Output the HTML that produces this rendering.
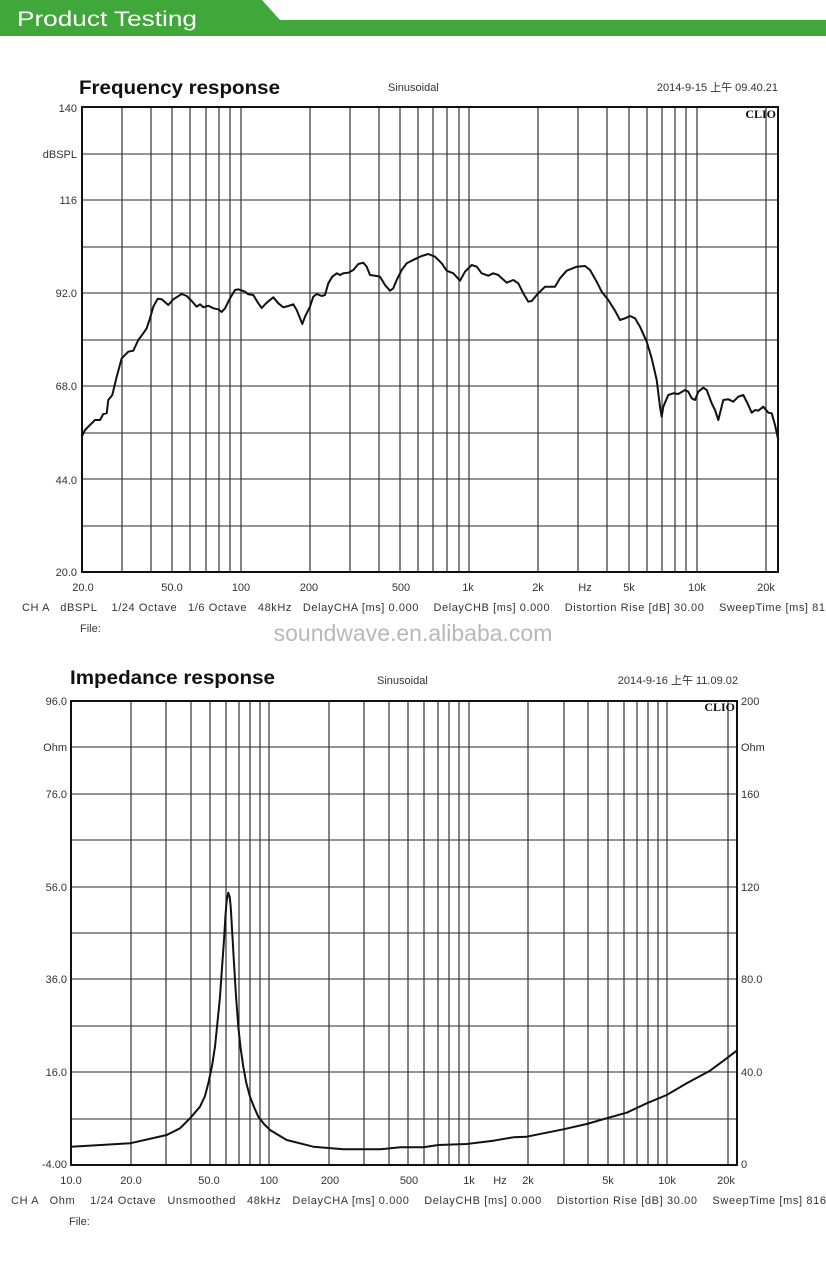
<!DOCTYPE html>
<html><head><meta charset="utf-8"><style>
html,body{margin:0;padding:0;background:#fff;}
svg{display:block;}
text{font-family:"Liberation Sans","Noto Sans CJK SC",sans-serif;fill:#333;}
</style></head><body>
<svg width="826" height="1264" viewBox="0 0 826 1264" xmlns="http://www.w3.org/2000/svg">
<rect x="0" y="0" width="826" height="1264" fill="#fff"/>
<!-- header -->
<polygon points="0,0 262,0 280,20 826,20 826,36 0,36" fill="#40a83b"/>
<text x="17" y="26" font-size="21" textLength="180" lengthAdjust="spacingAndGlyphs" style="fill:#fff">Product Testing</text>

<!-- chart 1 -->
<text x="79" y="94" font-size="19" font-weight="bold" textLength="201" lengthAdjust="spacingAndGlyphs" style="fill:#111">Frequency response</text>
<text x="388" y="91" font-size="11">Sinusoidal</text>
<text x="778" y="91" font-size="11" text-anchor="end">2014-9-15 上午 09.40.21</text>
<g stroke="#555" stroke-width="1.2">
<line x1="82" y1="154" x2="778" y2="154"/><line x1="82" y1="200" x2="778" y2="200"/>
<line x1="82" y1="247" x2="778" y2="247"/><line x1="82" y1="293" x2="778" y2="293"/>
<line x1="82" y1="340" x2="778" y2="340"/><line x1="82" y1="386" x2="778" y2="386"/>
<line x1="82" y1="433" x2="778" y2="433"/><line x1="82" y1="479" x2="778" y2="479"/>
<line x1="82" y1="526" x2="778" y2="526"/>
</g>
<g stroke="#333" stroke-width="1.2">
<line x1="122" y1="107" x2="122" y2="572"/><line x1="151" y1="107" x2="151" y2="572"/>
<line x1="172" y1="107" x2="172" y2="572"/><line x1="190" y1="107" x2="190" y2="572"/>
<line x1="206" y1="107" x2="206" y2="572"/><line x1="219" y1="107" x2="219" y2="572"/>
<line x1="230" y1="107" x2="230" y2="572"/><line x1="241" y1="107" x2="241" y2="572"/>
<line x1="310" y1="107" x2="310" y2="572"/><line x1="350" y1="107" x2="350" y2="572"/>
<line x1="379" y1="107" x2="379" y2="572"/><line x1="400" y1="107" x2="400" y2="572"/>
<line x1="418" y1="107" x2="418" y2="572"/><line x1="433" y1="107" x2="433" y2="572"/>
<line x1="447" y1="107" x2="447" y2="572"/><line x1="459" y1="107" x2="459" y2="572"/>
<line x1="469" y1="107" x2="469" y2="572"/><line x1="538" y1="107" x2="538" y2="572"/>
<line x1="578" y1="107" x2="578" y2="572"/><line x1="607" y1="107" x2="607" y2="572"/>
<line x1="629" y1="107" x2="629" y2="572"/><line x1="647" y1="107" x2="647" y2="572"/>
<line x1="662" y1="107" x2="662" y2="572"/><line x1="675" y1="107" x2="675" y2="572"/>
<line x1="686" y1="107" x2="686" y2="572"/><line x1="697" y1="107" x2="697" y2="572"/>
<line x1="766" y1="107" x2="766" y2="572"/>
</g>
<rect x="82" y="107" width="696" height="465" fill="none" stroke="#111" stroke-width="2"/>
<text x="776" y="118" font-size="12" font-weight="bold" text-anchor="end" style="font-family:'Liberation Serif',serif;fill:#111">CLIO</text>
<g font-size="11" text-anchor="end">
<text x="77" y="112">140</text><text x="77" y="158">dBSPL</text><text x="77" y="204">116</text>
<text x="77" y="297">92.0</text><text x="77" y="390">68.0</text><text x="77" y="484">44.0</text><text x="77" y="576">20.0</text>
</g>
<g font-size="11" text-anchor="middle">
<text x="83" y="591">20.0</text><text x="172" y="591">50.0</text><text x="241" y="591">100</text>
<text x="309" y="591">200</text><text x="401" y="591">500</text><text x="468" y="591">1k</text>
<text x="538" y="591">2k</text><text x="585" y="591">Hz</text><text x="629" y="591">5k</text>
<text x="697" y="591">10k</text><text x="766" y="591">20k</text>
</g>
<text x="22" y="611" font-size="11" textLength="803" lengthAdjust="spacing" xml:space="preserve">CH A   dBSPL    1/24 Octave   1/6 Octave   48kHz   DelayCHA [ms] 0.000    DelayCHB [ms] 0.000    Distortion Rise [dB] 30.00    SweepTime [ms] 81</text>
<text x="80" y="632" font-size="11">File:</text>
<text x="413" y="641" font-size="23" text-anchor="middle" style="fill:#b8b8b8">soundwave.en.alibaba.com</text>
<polyline fill="none" stroke="#111" stroke-width="2" stroke-linejoin="round" points="81.7,436.7 85,430 95,420 100,420 103.3,414 106.7,413.3 108.3,400 112.3,395 116.7,376.7 121.7,358.3 128.3,351.7 133.3,350.7 138.3,340 143.3,333.3 146.7,328.3 150,318.3 153.3,306.7 157.7,298.7 161.7,299.3 168.3,305 173.3,299.3 181.7,294 186.7,296 191.7,301 196.7,306.7 200,304.3 203.3,307.3 208.3,305.7 213.3,308.3 218.3,309.3 221.7,312 225,308.3 230,298.3 235,290 238.3,289.3 245,291.7 248.3,294.3 253.3,295 258.3,303.3 261.7,308 266.7,302.7 273.3,297.3 278.3,303.3 283.3,307.3 288.3,306 293.3,304.3 296.7,310 300,318.3 302.3,324 305,316.7 310,306.7 313.3,296.7 316.7,294 321.7,296 325,295 328.3,283.3 332.3,276.7 336.7,273.3 340,275 343.3,273.3 348.3,272.7 353.3,270 358.3,264 363.3,262.7 366.7,266.7 370,275 376.7,276 380,276.7 385,285 390,290.7 393.3,288.3 396.7,280 401.7,270 406.7,263.3 411.7,260.7 416.7,258.3 421.7,256 428.3,254 435,256.7 441.7,263.3 446.7,270.7 453.3,273.3 460,280.7 465,271.7 471.7,265 476.7,266.7 481.7,273.3 488.3,275.7 493.3,273.3 498.3,275 506.7,282.7 513.3,280 518.3,283.3 523.3,293.3 528.3,301.7 531.7,301 536.7,295 545,286.7 555,286.7 560,278.3 566.7,270.7 576.7,266.7 585,266 590,270 596.7,281.7 601.7,291.7 608.3,300 615,310.7 620,320 625,318.3 630,316 635,318.3 640,326.7 646.7,341.7 651.7,358.3 656.7,380 660,406.7 661.7,416.7 663.3,406.7 668.3,395 673.3,393.3 678.3,394 685,390 688.3,391.7 691.7,398.3 695,400 698.3,391.7 703.3,387.7 706.7,390 711.7,403.3 715,410 718.3,420 723.3,400 728.3,399.3 733.3,401.7 738.3,396.7 743.3,395 748.3,405 751.7,412.7 755,410 758.3,410.7 763.3,406.7 768.3,412.7 771.7,413.3 775,425 778.3,440"/>

<!-- chart 2 -->
<text x="70" y="684" font-size="19" font-weight="bold" textLength="205" lengthAdjust="spacingAndGlyphs" style="fill:#111">Impedance response</text>
<text x="377" y="684" font-size="11">Sinusoidal</text>
<text x="738" y="684" font-size="11" text-anchor="end">2014-9-16 上午 11.09.02</text>
<g stroke="#555" stroke-width="1.2">
<line x1="71" y1="747" x2="737" y2="747"/><line x1="71" y1="794" x2="737" y2="794"/>
<line x1="71" y1="840" x2="737" y2="840"/><line x1="71" y1="887" x2="737" y2="887"/>
<line x1="71" y1="933" x2="737" y2="933"/><line x1="71" y1="979" x2="737" y2="979"/>
<line x1="71" y1="1026" x2="737" y2="1026"/><line x1="71" y1="1072" x2="737" y2="1072"/>
<line x1="71" y1="1119" x2="737" y2="1119"/>
</g>
<g stroke="#333" stroke-width="1.2">
<line x1="131" y1="701" x2="131" y2="1165"/><line x1="166" y1="701" x2="166" y2="1165"/>
<line x1="191" y1="701" x2="191" y2="1165"/><line x1="210" y1="701" x2="210" y2="1165"/>
<line x1="226" y1="701" x2="226" y2="1165"/><line x1="239" y1="701" x2="239" y2="1165"/>
<line x1="250" y1="701" x2="250" y2="1165"/><line x1="260" y1="701" x2="260" y2="1165"/>
<line x1="269" y1="701" x2="269" y2="1165"/><line x1="329" y1="701" x2="329" y2="1165"/>
<line x1="364" y1="701" x2="364" y2="1165"/><line x1="389" y1="701" x2="389" y2="1165"/>
<line x1="408" y1="701" x2="408" y2="1165"/><line x1="424" y1="701" x2="424" y2="1165"/>
<line x1="438" y1="701" x2="438" y2="1165"/><line x1="449" y1="701" x2="449" y2="1165"/>
<line x1="459" y1="701" x2="459" y2="1165"/><line x1="469" y1="701" x2="469" y2="1165"/>
<line x1="528" y1="701" x2="528" y2="1165"/><line x1="564" y1="701" x2="564" y2="1165"/>
<line x1="588" y1="701" x2="588" y2="1165"/><line x1="608" y1="701" x2="608" y2="1165"/>
<line x1="624" y1="701" x2="624" y2="1165"/><line x1="637" y1="701" x2="637" y2="1165"/>
<line x1="648" y1="701" x2="648" y2="1165"/><line x1="658" y1="701" x2="658" y2="1165"/>
<line x1="667" y1="701" x2="667" y2="1165"/><line x1="728" y1="701" x2="728" y2="1165"/>
</g>
<rect x="71" y="701" width="666" height="464" fill="none" stroke="#111" stroke-width="2"/>
<text x="735" y="711" font-size="12" font-weight="bold" text-anchor="end" style="font-family:'Liberation Serif',serif;fill:#111">CLIO</text>
<g font-size="11" text-anchor="end">
<text x="67" y="705">96.0</text><text x="67" y="751">Ohm</text><text x="67" y="798">76.0</text>
<text x="67" y="891">56.0</text><text x="67" y="983">36.0</text><text x="67" y="1076">16.0</text><text x="67" y="1168">-4.00</text>
</g>
<g font-size="11">
<text x="741" y="705">200</text><text x="741" y="751">Ohm</text><text x="741" y="798">160</text>
<text x="741" y="891">120</text><text x="741" y="983">80.0</text><text x="741" y="1076">40.0</text><text x="741" y="1168">0</text>
</g>
<g font-size="11" text-anchor="middle">
<text x="71" y="1184">10.0</text><text x="131" y="1184">20.0</text><text x="209" y="1184">50.0</text>
<text x="269" y="1184">100</text><text x="330" y="1184">200</text><text x="409" y="1184">500</text>
<text x="469" y="1184">1k</text><text x="500" y="1184">Hz</text><text x="528" y="1184">2k</text>
<text x="608" y="1184">5k</text><text x="667" y="1184">10k</text><text x="726" y="1184">20k</text>
</g>
<text x="11" y="1204" font-size="11" textLength="815" lengthAdjust="spacing" xml:space="preserve">CH A   Ohm    1/24 Octave   Unsmoothed   48kHz   DelayCHA [ms] 0.000    DelayCHB [ms] 0.000    Distortion Rise [dB] 30.00    SweepTime [ms] 816</text>
<text x="69" y="1225" font-size="11">File:</text>
<polyline fill="none" stroke="#111" stroke-width="2" stroke-linejoin="round" points="71,1146.7 130,1143.3 166.7,1135 180,1128.3 190,1118.3 200,1106.7 205,1096 208.3,1083.3 212,1066 215,1046.7 217.5,1022 220,996.7 222,968 224,940 225.5,915 226.7,900 228.3,892.7 229.7,897 230.7,906.7 232.2,932 234,963.3 236,996 238.3,1026.7 240.6,1048 243.3,1066.7 246.3,1083 250,1096.7 254,1107 258.3,1116.7 264,1124 270,1130 286.7,1140 313.3,1146.7 343.3,1149.3 380,1149.3 400,1147.3 423.3,1147.3 438.3,1145 466.7,1144 493.3,1140.7 513.3,1137.3 526.7,1136.7 563.3,1129.3 586.7,1124 610,1117.3 626.7,1112.7 646.7,1103.3 666.7,1095 686.7,1083.3 710,1070.7 726.7,1058.3 736.7,1050.7"/>
</svg>
</body></html>
